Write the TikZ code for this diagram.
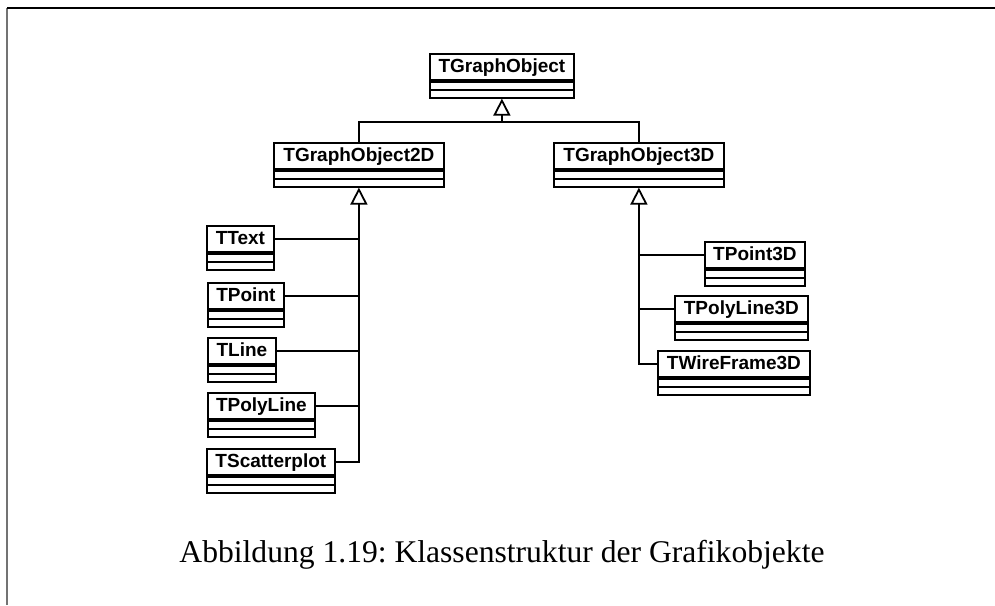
\documentclass[tikz,border=0pt]{standalone}
\usepackage{fontspec}
\setmainfont{Liberation Serif}
\newfontfamily\classfont{Liberation Sans}
\usetikzlibrary{arrows.meta}

\tikzset{
  boxline/.style={line width=1.8pt},
  hdr/.style={draw, boxline, rectangle, inner xsep=0pt, inner ysep=0pt,
    minimum height=26pt, text height=15pt, text depth=3pt, anchor=north west,
    font=\classfont\fontsize{19}{21}\selectfont\bfseries},
  cmp/.style={draw, boxline, rectangle, inner sep=0pt, minimum height=16pt, anchor=north},
  conn/.style={boxline},
  gen/.style={boxline, -{Triangle[open, length=17pt, width=17pt, line width=1.8pt]}},
}

% class box: name, left x, top y, width, title
\newcommand\umlclass[5]{%
  \node[hdr, minimum width=#4pt] (#1) at (#2,#3) {#5};
  \node[cmp, minimum width=#4pt] (#1-c) at (#1.south) {};
  \draw[boxline] (#1-c.west) -- (#1-c.east);
}

\begin{document}
\frenchspacing
\begin{tikzpicture}[x=1pt, y=-1pt]
\useasboundingbox (0,0) rectangle (995,605);

% page frame
\coordinate (fa) at (7,605);
\coordinate (fb) at (7,8);
\coordinate (fc) at (995,8);
\draw[line width=1.2pt, black!55] (fa) -- (fb);
\draw[line width=1.4pt] (fb) -- (fc);

% classes
\umlclass{go}{429}{53}{144}{TGraphObject}
\umlclass{go2d}{273}{142}{170}{TGraphObject2D}
\umlclass{go3d}{553}{142}{170}{TGraphObject3D}

\umlclass{ttext}{206}{225}{67}{TText}
\umlclass{tpoint}{207}{282}{76}{TPoint}
\umlclass{tline}{207}{337}{68}{TLine}
\umlclass{tpoly}{207}{392}{107}{TPolyLine}
\umlclass{tscat}{206}{448}{128}{TScatterplot}

\umlclass{tp3}{704}{241}{100}{TPoint3D}
\umlclass{tpl3}{674}{295}{133}{TPolyLine3D}
\umlclass{twf3}{657}{350}{152}{TWireFrame3D}

% inheritance from TGraphObject
\coordinate (j) at (go-c.south |- 0,122);
\draw[gen] (j) -- (go-c.south);
\draw[conn] (go2d.north) |- (j) -| (go3d.north);

% inheritance from TGraphObject2D
\draw[gen] (tscat.east) -| (go2d-c.south);
\draw[conn] (ttext.east) -- (ttext.east -| go2d-c.south);
\draw[conn] (tpoint.east) -- (tpoint.east -| go2d-c.south);
\draw[conn] (tline.east) -- (tline.east -| go2d-c.south);
\draw[conn] (tpoly.east) -- (tpoly.east -| go2d-c.south);

% inheritance from TGraphObject3D
\draw[gen] (twf3.west) -| (go3d-c.south);
\draw[conn] (tp3.west) -- (tp3.west -| go3d-c.south);
\draw[conn] (tpl3.west) -- (tpl3.west -| go3d-c.south);

% caption
\node[anchor=base, inner sep=0pt, font=\fontsize{31.6}{36}\selectfont] (cap) at (502,562)
  {Abbildung 1.19: Klassenstruktur der Grafikobjekte};
\end{tikzpicture}
\end{document}
